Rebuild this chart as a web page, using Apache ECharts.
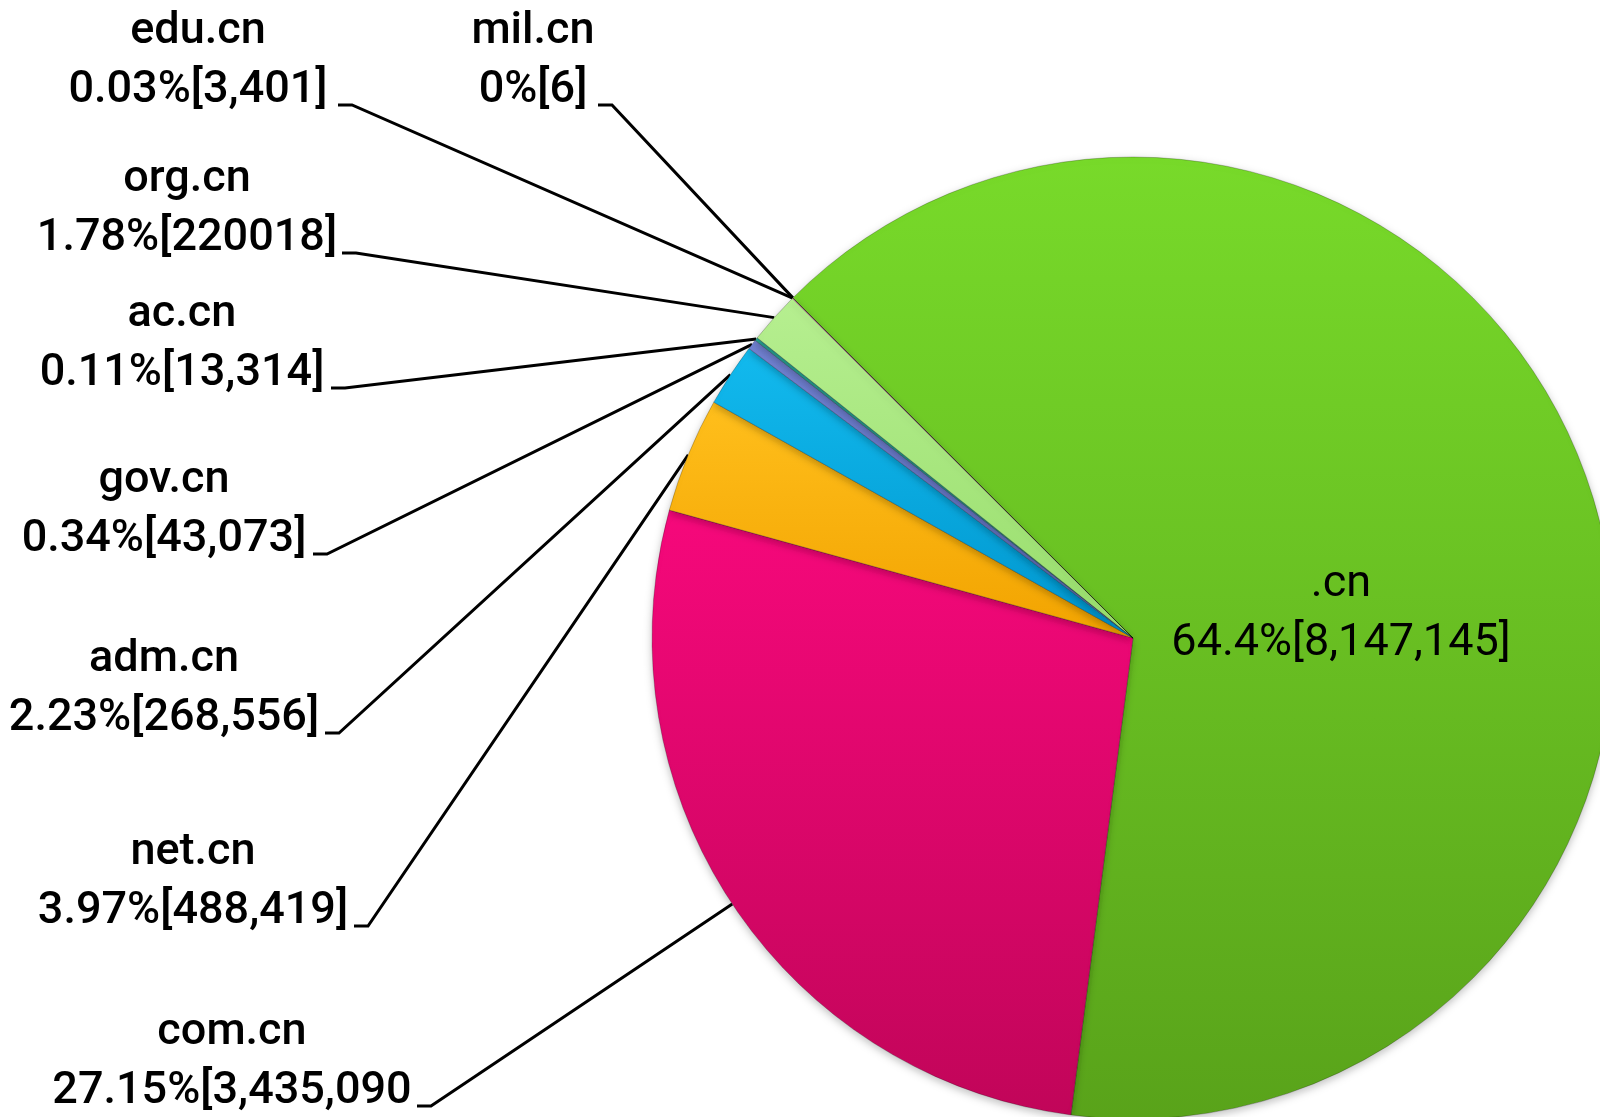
<!DOCTYPE html>
<html><head><meta charset="utf-8">
<script src="https://cdn.jsdelivr.net/npm/echarts@6/dist/echarts.min.js"></script>
<style>html,body{margin:0;padding:0;background:#fff}#c{width:1600px;height:1117px}</style>
</head><body><div id="c"></div>
<script>
// ---- data ----
const names = ['.cn', 'com.cn', 'net.cn', 'adm.cn', 'gov.cn', 'ac.cn', 'org.cn', 'edu.cn', 'mil.cn'];
const values = [8147145, 3435090, 488419, 268556, 43073, 13314, 220018, 3401, 6];
const shareText = ['64.4%[8,147,145]', '27.15%[3,435,090', '3.97%[488,419]', '2.23%[268,556]',
  '0.34%[43,073]', '0.11%[13,314]', '1.78%[220018]', '0.03%[3,401]', '0%[6]'];

// ---- layout / style (kept apart from data) ----
const CX = 1133, CY = 638, R = 481, START = 135;
const labelPos = [
  { x: 1341, y: 614, inside: true },
  { x: 232, y: 1062, right: 410 },
  { x: 193, y: 882, right: 347 },
  { x: 164, y: 689, right: 318 },
  { x: 164, y: 510, right: 306 },
  { x: 182, y: 344, right: 324 },
  { x: 187, y: 209, right: 335 },
  { x: 198, y: 61, right: 331 },
  { x: 533, y: 61, right: 591 }
];
const sliceColors = [
  ['#78da2a', '#59a31a'],
  ['#f6087b', '#c10559'],
  ['#ffbf1c', '#f2a300'],
  ['#12baee', '#0096ce'],
  ['#7282d2', '#6272c2'],
  ['#2aa898', '#1f9486'],
  ['#b6ef90', '#98dd6c'],
  ['#e890b2', '#d87898'],
  ['#999999', '#888888']
];

function grad(c) {
  return { type: 'linear', x: 0, y: 0, x2: 0, y2: 1,
    colorStops: [{ offset: 0, color: c[0] }, { offset: 1, color: c[1] }] };
}

const total = values.reduce((a, b) => a + b, 0);
function midPoint(i) {
  let acc = 0;
  for (let k = 0; k < i; k++) acc += values[k];
  const mid = START - (acc + values[i] / 2) / total * 360;
  const a = mid * Math.PI / 180;
  return [CX + R * Math.cos(a), CY - R * Math.sin(a)];
}

const data = names.map((n, i) => {
  const d = { name: n, value: values[i], itemStyle: { color: grad(sliceColors[i]) } };
  if (labelPos[i].inside) {
    d.labelLine = { show: false };
    d.label = { fontWeight: 'normal' };
  }
  return d;
});

const chart = echarts.init(document.getElementById('c'), null, { renderer: 'canvas' });
chart.setOption({
  animation: false,
  backgroundColor: '#ffffff',
  series: [{
    type: 'pie',
    center: [CX, CY],
    radius: R,
    startAngle: START,
    clockwise: true,
    avoidLabelOverlap: false,
    emphasis: { disabled: true },
    itemStyle: {
      borderColor: 'rgba(0,0,0,0.22)',
      borderWidth: 1,
      shadowBlur: 8,
      shadowColor: 'rgba(0,0,0,0.25)',
      shadowOffsetY: 3
    },
    label: {
      show: true,
      position: 'outer',
      formatter: p => p.name + '\n' + shareText[p.dataIndex],
      fontFamily: 'Roboto',
      fontSize: 45,
      fontWeight: 500,
      lineHeight: 59,
      color: '#000',
      align: 'center'
    },
    labelLine: {
      show: true,
      lineStyle: { color: '#000', width: 3 }
    },
    labelLayout: function (params) {
      const i = params.dataIndex;
      const L = labelPos[i];
      if (L.inside) return { x: L.x, y: L.y, align: 'center', verticalAlign: 'middle' };
      const p0 = (params.labelLinePoints && params.labelLinePoints[0]) || midPoint(i);
      const ly = L.y + 44;
      return {
        x: L.x, y: L.y, align: 'center', verticalAlign: 'middle',
        labelLinePoints: [p0, [L.right + 21, ly], [L.right + 7, ly]]
      };
    },
    data: data
  }]
});
</script></body></html>
